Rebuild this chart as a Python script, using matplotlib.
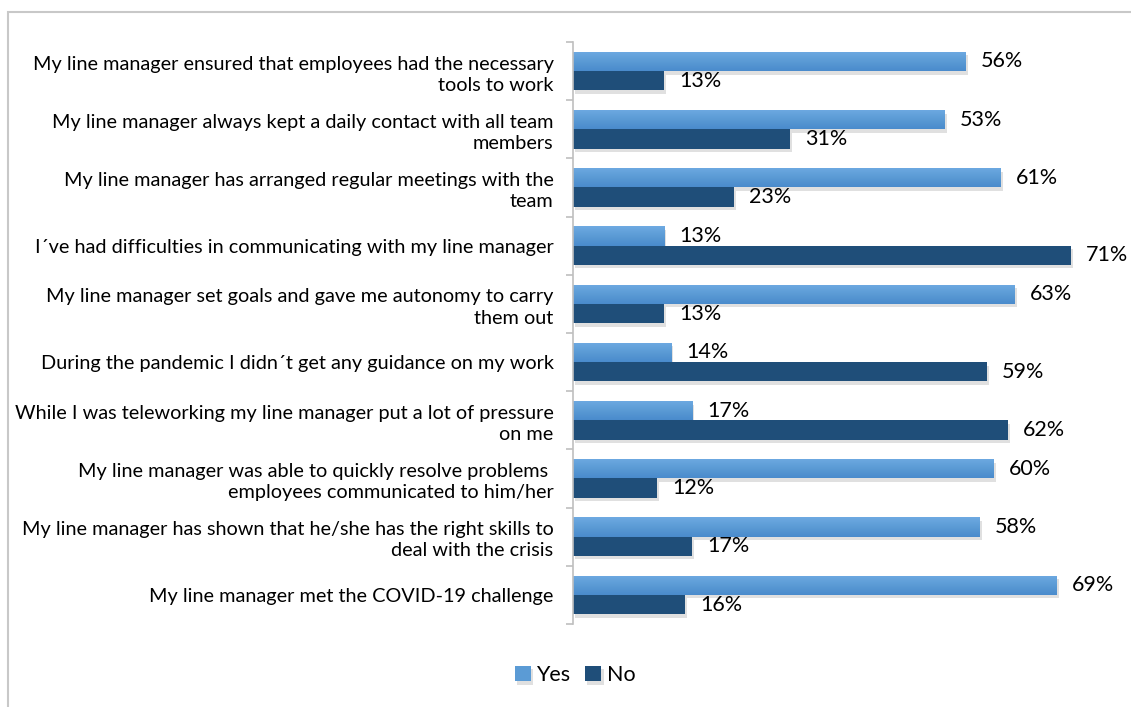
import numpy as np
import matplotlib.pyplot as plt
import matplotlib.patheffects as pe
from matplotlib.patches import Rectangle
from matplotlib.colors import LinearSegmentedColormap

# Survey statements (top to bottom) and share of answers
statements = [
    "My line manager ensured that employees had the necessary\ntools to work",
    "My line manager always kept a daily contact with all team\nmembers",
    "My line manager has arranged regular meetings with the\nteam",
    "I´ve had difficulties in communicating with my line manager",
    "My line manager set goals and gave me autonomy to carry\nthem out",
    "During the pandemic I didn´t get any guidance on my work",
    "While I was teleworking my line manager put a lot of pressure\non me",
    "My line manager was able to quickly resolve problems \nemployees communicated to him/her",
    "My line manager has shown that he/she has the right skills to\ndeal with the crisis",
    "My line manager met the COVID-19 challenge",
]
yes = [56, 53, 61, 13, 63, 14, 17, 60, 58, 69]
no = [13, 31, 23, 71, 13, 59, 62, 12, 17, 16]

plt.rcParams['font.family'] = ['Lato', 'DejaVu Sans']

fig = plt.figure(figsize=(11.31, 7.07), dpi=100)
# thin grey frame round the chart area
fig.patches.append(Rectangle((8 / 1131, -0.01), 1.2, 1 - 12 / 707 + 0.01,
                             transform=fig.transFigure, fill=False,
                             edgecolor='#c8c8c8', linewidth=1.5))

ax = fig.add_axes([573 / 1131, 1 - 624 / 707, 547 / 1131, 582 / 707])

y = np.arange(len(statements))
h = 0.33
shadow = [pe.SimplePatchShadow(offset=(1.5, -2.5), shadow_rgbFace='#9a9a9a', alpha=0.3), pe.Normal()]

b_yes = ax.barh(y - h / 2, yes, height=h, color='#5b9bd5', label='Yes')
b_no = ax.barh(y + h / 2, no, height=h, color='#1f4e79', label='No')
for b in list(b_yes) + list(b_no):
    b.set_path_effects(shadow)

# light-to-dark vertical shading on the Yes bars
shade = LinearSegmentedColormap.from_list('shade', ['#6eaae2', '#5b9bd5', '#4a8bcc'])
grad = np.linspace(0, 1, 64).reshape(-1, 1)
for b in b_yes:
    im = ax.imshow(grad, cmap=shade, aspect='auto', origin='upper', zorder=b.get_zorder() + 0.1,
                   extent=(0, b.get_width(), b.get_y() + b.get_height(), b.get_y()))
    im.set_clip_path(b)

for bars, vals in ((b_yes, yes), (b_no, no)):
    for b, v in zip(bars, vals):
        ax.text(v + 2.1, b.get_y() + b.get_height() / 2, f"{v}%",
                va='center', ha='left', fontsize=15.5, color='#000000')

ax.set_xlim(0, 78)
ax.set_ylim(len(statements) - 0.5, -0.5)
ax.set_xticks([])
ax.set_yticks(y)
ax.set_yticklabels(statements, fontsize=14.3, ha='right', multialignment='right',
                   linespacing=1.3)
ax.set_yticks(np.arange(len(statements) + 1) - 0.5, minor=True)
ax.tick_params(axis='y', which='major', length=0, pad=14)
ax.tick_params(axis='y', which='minor', length=5, color='#bfbfbf', width=1.2)
for s in ('top', 'right', 'bottom'):
    ax.spines[s].set_visible(False)
ax.spines['left'].set_color('#bfbfbf')
ax.spines['left'].set_linewidth(1.2)

fig.legend(handles=[b_yes, b_no], labels=['Yes', 'No'], loc='center',
           bbox_to_anchor=(575 / 1131, 1 - 675 / 707), ncol=2, frameon=False,
           fontsize=15.5, handlelength=0.75, handleheight=0.75, handletextpad=0.25,
           columnspacing=0.7)

fig.savefig('out.png', dpi=100)
